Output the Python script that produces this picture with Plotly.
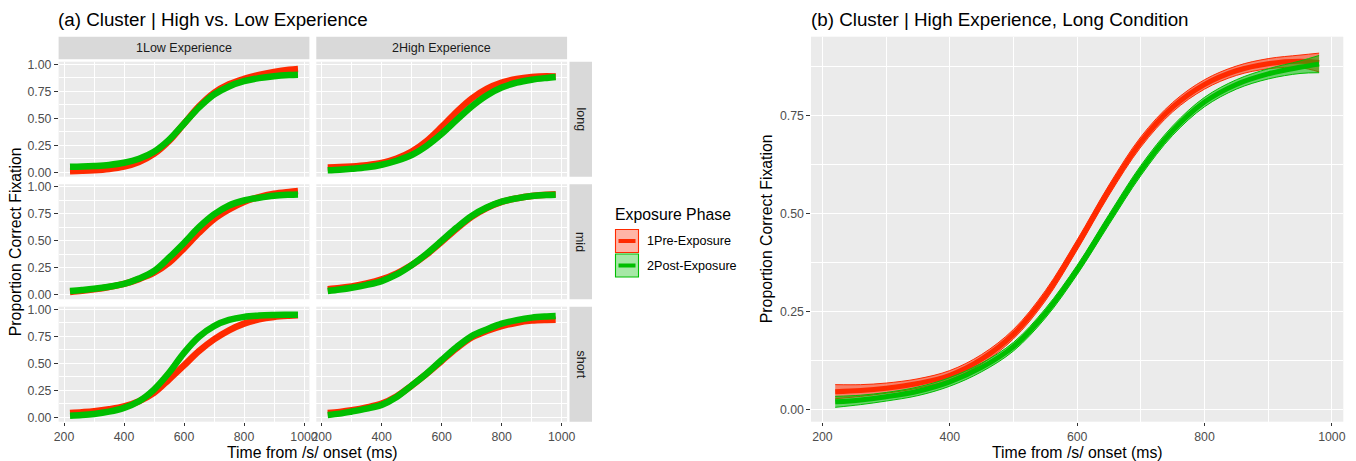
import plotly.graph_objects as go

W, H = 1356, 461

# ---------------- data ----------------
time_ms = [220, 260, 300, 350, 400, 450, 500, 550, 600, 650, 700, 750, 800, 850, 900, 950, 980]

low_long_pre   = [0.010, 0.013, 0.018, 0.030, 0.052, 0.095, 0.170, 0.290, 0.450, 0.610, 0.735, 0.815, 0.865, 0.902, 0.930, 0.950, 0.957]
low_long_post  = [0.050, 0.053, 0.058, 0.068, 0.088, 0.125, 0.190, 0.300, 0.450, 0.600, 0.720, 0.795, 0.843, 0.872, 0.890, 0.900, 0.903]
high_long_pre  = [0.045, 0.048, 0.054, 0.066, 0.087, 0.128, 0.192, 0.290, 0.420, 0.560, 0.683, 0.772, 0.830, 0.865, 0.883, 0.889, 0.886]
high_long_post = [0.019, 0.024, 0.032, 0.046, 0.070, 0.107, 0.160, 0.245, 0.356, 0.485, 0.610, 0.712, 0.785, 0.830, 0.857, 0.874, 0.882]
low_mid_pre    = [0.025, 0.036, 0.050, 0.072, 0.100, 0.145, 0.204, 0.296, 0.430, 0.574, 0.700, 0.790, 0.860, 0.905, 0.935, 0.952, 0.960]
low_mid_post   = [0.034, 0.044, 0.056, 0.075, 0.100, 0.150, 0.220, 0.343, 0.480, 0.626, 0.744, 0.827, 0.873, 0.898, 0.917, 0.926, 0.929]
high_mid_pre   = [0.052, 0.063, 0.077, 0.104, 0.142, 0.198, 0.275, 0.373, 0.490, 0.612, 0.722, 0.803, 0.860, 0.893, 0.915, 0.927, 0.930]
high_mid_post  = [0.034, 0.048, 0.065, 0.092, 0.127, 0.188, 0.275, 0.380, 0.500, 0.622, 0.730, 0.808, 0.862, 0.893, 0.914, 0.924, 0.927]
low_short_pre  = [0.040, 0.047, 0.056, 0.074, 0.100, 0.149, 0.226, 0.350, 0.480, 0.613, 0.721, 0.805, 0.867, 0.907, 0.929, 0.940, 0.944]
low_short_post = [0.015, 0.021, 0.031, 0.052, 0.087, 0.149, 0.257, 0.412, 0.597, 0.746, 0.845, 0.901, 0.930, 0.942, 0.947, 0.949, 0.950]
high_short_pre = [0.040, 0.050, 0.065, 0.091, 0.127, 0.195, 0.294, 0.402, 0.522, 0.640, 0.740, 0.800, 0.845, 0.876, 0.895, 0.901, 0.902]
high_short_post= [0.022, 0.034, 0.053, 0.080, 0.115, 0.188, 0.294, 0.405, 0.530, 0.650, 0.752, 0.814, 0.867, 0.900, 0.923, 0.934, 0.938]

# confidence half-widths for panel (b)
high_long_pre_ci  = [0.018, 0.015, 0.013, 0.012, 0.012, 0.012, 0.012, 0.013, 0.013, 0.013, 0.013, 0.012, 0.012, 0.012, 0.013, 0.016, 0.024]
high_long_post_ci = [0.014, 0.012, 0.011, 0.011, 0.011, 0.011, 0.011, 0.012, 0.012, 0.013, 0.013, 0.012, 0.012, 0.012, 0.013, 0.016, 0.022]

experience = ["1Low Experience", "2High Experience"]
duration = ["long", "mid", "short"]
phases = ["1Pre-Exposure", "2Post-Exposure"]
x_ticks = [200, 400, 600, 800, 1000]
x_minor = [300, 500, 700, 900]
y_ticks_facet = [0.0, 0.25, 0.5, 0.75, 1.0]
y_ticks_b = [0.0, 0.25, 0.5, 0.75]
y_minor = [0.125, 0.375, 0.625, 0.875]

facet_data = {
    ("long", "1Low Experience"): (low_long_pre, low_long_post),
    ("long", "2High Experience"): (high_long_pre, high_long_post),
    ("mid", "1Low Experience"): (low_mid_pre, low_mid_post),
    ("mid", "2High Experience"): (high_mid_pre, high_mid_post),
    ("short", "1Low Experience"): (low_short_pre, low_short_post),
    ("short", "2High Experience"): (high_short_pre, high_short_post),
}

RED = "#FF2A00"
GREEN = "#00BE00"
RED_FILL = "rgba(255,42,0,0.55)"
GREEN_FILL = "rgba(0,190,0,0.55)"
FONT = "Liberation Sans, Arial, sans-serif"
TICK_SIZE = 12.3
STRIP_SIZE = 12.5
AXTITLE_SIZE = 15.8
TITLE_SIZE = 18.8
LEG_SIZE = 12.6

def px(x):
    return x / W

def py(y):
    return 1 - y / H

# ---------------- layout geometry (pixels) ----------------
col_px = [(58.6, 309.4), (316.3, 567.1)]
row_px = [(61.7, 176.7), (184.2, 299.2), (306.7, 421.7)]
b_x_px = (811.0, 1343.3)
b_y_px = (36.7, 421.7)

fig = go.Figure()
layout = dict(
    template="none",
    width=W, height=H,
    autosize=False,
    margin=dict(l=0, r=0, t=0, b=0, pad=0, autoexpand=False),
    paper_bgcolor="white",
    plot_bgcolor="#EBEBEB",
    showlegend=False,
    font=dict(family=FONT, color="#4D4D4D", size=TICK_SIZE),
)

def axis_common():
    return dict(
        automargin=False,
        showline=False, zeroline=False, showgrid=True,
        gridcolor="white", gridwidth=1.1,
        ticks="outside", ticklen=3.7, tickwidth=1.1, tickcolor="#333333",
        tickfont=dict(family=FONT, size=TICK_SIZE, color="#4D4D4D"),
        fixedrange=True,
    )

idx = 0
for r, dur in enumerate(duration):
    for c, exp in enumerate(experience):
        idx += 1
        xa = "xaxis" if idx == 1 else f"xaxis{idx}"
        ya = "yaxis" if idx == 1 else f"yaxis{idx}"
        xref = "x" if idx == 1 else f"x{idx}"
        yref = "y" if idx == 1 else f"y{idx}"
        xd = axis_common()
        xd.update(domain=[px(col_px[c][0]), px(col_px[c][1])], range=[182, 1018],
                  tickvals=x_ticks, ticktext=[str(v) for v in x_ticks],
                  anchor=yref,
                  minor=dict(tickvals=x_minor, showgrid=True, gridcolor="white", gridwidth=0.55, ticks=""))
        if r != 2:
            xd.update(showticklabels=False, ticks="")
        yd = axis_common()
        yd.update(domain=[py(row_px[r][1]), py(row_px[r][0])], range=[-0.041, 1.024],
                  tickvals=y_ticks_facet, ticktext=[f"{v:.2f}" for v in y_ticks_facet],
                  anchor=xref,
                  minor=dict(tickvals=y_minor, showgrid=True, gridcolor="white", gridwidth=0.55, ticks=""))
        if c != 0:
            yd.update(showticklabels=False, ticks="")
        layout[xa] = xd
        layout[ya] = yd
        pre, post = facet_data[(dur, exp)]
        for vals, col, name in [(pre, RED, phases[0]), (post, GREEN, phases[1])]:
            fig.add_trace(go.Scatter(x=time_ms, y=vals, mode="lines", name=name,
                                     line=dict(color=col, width=6.5, shape="spline", smoothing=1.0),
                                     xaxis=xref, yaxis=yref, hoverinfo="skip"))

# panel (b)
xd = axis_common()
xd.update(domain=[px(b_x_px[0]), px(b_x_px[1])], range=[182, 1018],
          tickvals=x_ticks, ticktext=[str(v) for v in x_ticks], anchor="y7",
          minor=dict(tickvals=x_minor, showgrid=True, gridcolor="white", gridwidth=0.55, ticks=""))
yd = axis_common()
yd.update(domain=[py(b_y_px[1]), py(b_y_px[0])], range=[-0.0317, 0.952],
          tickvals=y_ticks_b, ticktext=[f"{v:.2f}" for v in y_ticks_b], anchor="x7",
          minor=dict(tickvals=y_minor, showgrid=True, gridcolor="white", gridwidth=0.55, ticks=""))
layout["xaxis7"] = xd
layout["yaxis7"] = yd

for vals, ci, col, fillc, name in [
    (high_long_pre, high_long_pre_ci, RED, RED_FILL, phases[0]),
    (high_long_post, high_long_post_ci, GREEN, GREEN_FILL, phases[1]),
]:
    lower = [v - e for v, e in zip(vals, ci)]
    upper = [v + e for v, e in zip(vals, ci)]
    fig.add_trace(go.Scatter(x=time_ms, y=lower, mode="lines",
                             line=dict(color=col, width=1, shape="spline"),
                             xaxis="x7", yaxis="y7", hoverinfo="skip", name=name))
    fig.add_trace(go.Scatter(x=time_ms, y=upper, mode="lines", fill="tonexty", fillcolor=fillc,
                             line=dict(color=col, width=1, shape="spline"),
                             xaxis="x7", yaxis="y7", hoverinfo="skip", name=name))
    fig.add_trace(go.Scatter(x=time_ms, y=vals, mode="lines",
                             line=dict(color=col, width=5, shape="spline"),
                             xaxis="x7", yaxis="y7", hoverinfo="skip", name=name))

# ---------------- strips, titles, legend ----------------
shapes = []
annotations = []
STRIP = "#D9D9D9"
strip_top = (36.7, 59.3)
for c, exp in enumerate(experience):
    x0, x1 = col_px[c]
    shapes.append(dict(type="rect", xref="paper", yref="paper", x0=px(x0), x1=px(x1),
                       y0=py(strip_top[1]), y1=py(strip_top[0]), fillcolor=STRIP, line=dict(width=0), layer="below"))
    annotations.append(dict(text=exp, xref="paper", yref="paper", x=px((x0 + x1) / 2), y=py(sum(strip_top) / 2),
                            showarrow=False, xanchor="center", yanchor="middle",
                            font=dict(family=FONT, size=STRIP_SIZE, color="#1A1A1A")))
strip_right = (569.5, 592.0)
for r, dur in enumerate(duration):
    y0, y1 = row_px[r]
    shapes.append(dict(type="rect", xref="paper", yref="paper", x0=px(strip_right[0]), x1=px(strip_right[1]),
                       y0=py(y1), y1=py(y0), fillcolor=STRIP, line=dict(width=0), layer="below"))
    annotations.append(dict(text=dur, xref="paper", yref="paper", x=px(sum(strip_right) / 2), y=py((y0 + y1) / 2),
                            showarrow=False, xanchor="center", yanchor="middle", textangle=90,
                            font=dict(family=FONT, size=STRIP_SIZE, color="#1A1A1A")))

# titles
annotations.append(dict(text="(a) Cluster | High vs. Low Experience", xref="paper", yref="paper",
                        x=px(56.0), y=py(19.5), xanchor="left", yanchor="middle", showarrow=False,
                        font=dict(family=FONT, size=TITLE_SIZE, color="black")))
annotations.append(dict(text="(b) Cluster | High Experience, Long Condition", xref="paper", yref="paper",
                        x=px(808.5), y=py(19.5), xanchor="left", yanchor="middle", showarrow=False,
                        font=dict(family=FONT, size=TITLE_SIZE, color="black")))
# axis titles
for xc in [(col_px[0][0] + col_px[1][1]) / 2, sum(b_x_px) / 2]:
    annotations.append(dict(text="Time from /s/ onset (ms)", xref="paper", yref="paper",
                            x=px(xc), y=py(452), xanchor="center", yanchor="middle", showarrow=False,
                            font=dict(family=FONT, size=AXTITLE_SIZE, color="black")))
annotations.append(dict(text="Proportion Correct Fixation", xref="paper", yref="paper",
                        x=px(15.5), y=py((row_px[0][0] + row_px[2][1]) / 2), xanchor="center", yanchor="middle",
                        textangle=-90, showarrow=False, font=dict(family=FONT, size=AXTITLE_SIZE, color="black")))
annotations.append(dict(text="Proportion Correct Fixation", xref="paper", yref="paper",
                        x=px(766), y=py(sum(b_y_px) / 2), xanchor="center", yanchor="middle",
                        textangle=-90, showarrow=False, font=dict(family=FONT, size=AXTITLE_SIZE, color="black")))

# legend
annotations.append(dict(text="Exposure Phase", xref="paper", yref="paper", x=px(612.5), y=py(214.5),
                        xanchor="left", yanchor="middle", showarrow=False,
                        font=dict(family=FONT, size=AXTITLE_SIZE, color="black")))
key_rows = [(229.5, 252.5), (254.0, 277.0)]
for (k0, k1), col, fillc, name in zip(key_rows, [RED, GREEN], ["rgba(255,42,0,0.35)", "rgba(0,190,0,0.35)"], phases):
    shapes.append(dict(type="rect", xref="paper", yref="paper", x0=px(615.5), x1=px(638.5),
                       y0=py(k1), y1=py(k0), fillcolor=fillc, line=dict(color=col, width=1.1)))
    shapes.append(dict(type="line", xref="paper", yref="paper", x0=px(618.5), x1=px(635.5),
                       y0=py((k0 + k1) / 2), y1=py((k0 + k1) / 2), line=dict(color=col, width=4)))
    annotations.append(dict(text=name, xref="paper", yref="paper", x=px(645), y=py((k0 + k1) / 2),
                            xanchor="left", yanchor="middle", showarrow=False,
                            font=dict(family=FONT, size=LEG_SIZE, color="black")))

layout["shapes"] = shapes
layout["annotations"] = annotations
fig.update_layout(**layout)
fig.write_html(
    "out.html",
    config={"responsive": False, "displayModeBar": False},
    post_script=("document.body.style.margin='0';document.body.style.padding='0';"
                 "document.body.style.overflow='hidden';"
                 "document.documentElement.style.overflow='hidden';"),
)
